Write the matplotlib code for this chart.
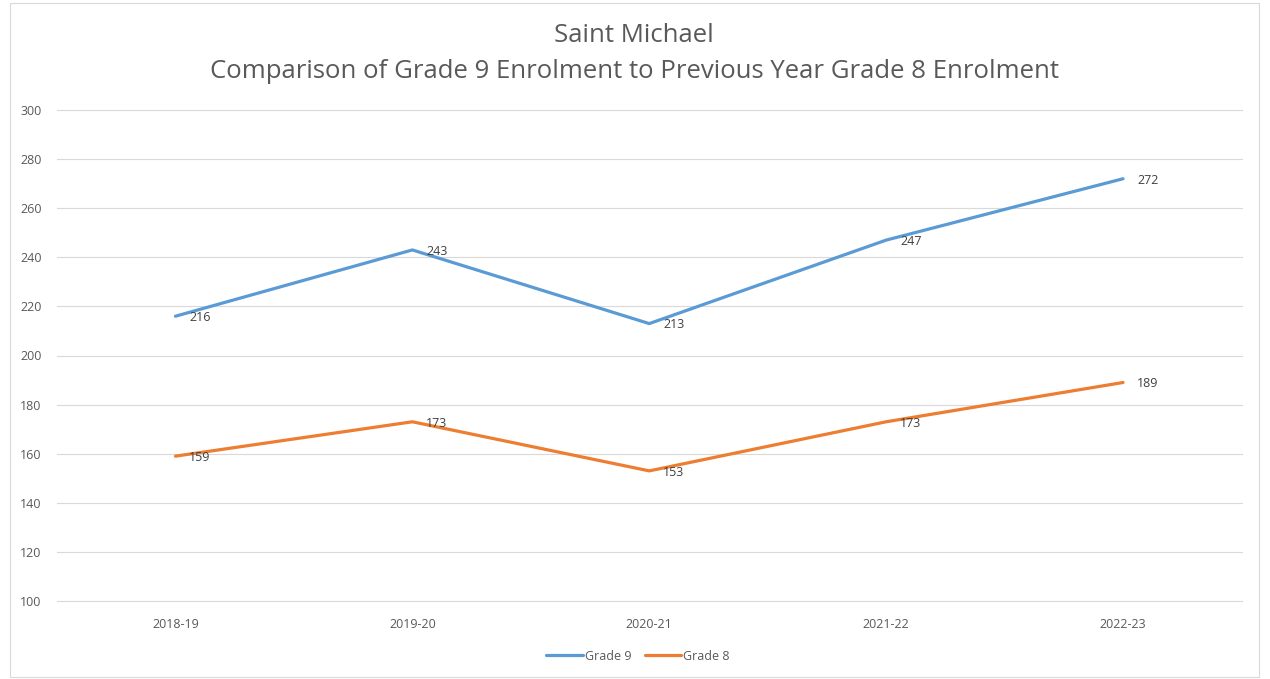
import matplotlib.pyplot as plt
from matplotlib.patches import Rectangle

years = ['2018-19', '2019-20', '2020-21', '2021-22', '2022-23']
grade9 = [216, 243, 213, 247, 272]
grade8 = [159, 173, 153, 173, 189]

plt.rcParams['font.family'] = ['Open Sans', 'DejaVu Sans']

W, H = 1270, 679
fig = plt.figure(figsize=(W / 100, H / 100), dpi=100)

# chart area border
fig.patches.append(Rectangle((10 / W, 1 - 677 / H), 1249 / W, 674 / H,
                             transform=fig.transFigure, fill=False,
                             edgecolor='#d9d9d9', linewidth=0.8))

ax = fig.add_axes([57 / W, 1 - 601 / H, 1184.5 / W, 491 / H])
x = list(range(len(years)))

ax.plot(x, grade9, color='#5b9bd5', lw=2.3, label='Grade 9', solid_capstyle='round')
ax.plot(x, grade8, color='#ed7d31', lw=2.3, label='Grade 8', solid_capstyle='round')

for xi, v in zip(x, grade9):
    ax.annotate(str(v), (xi, v), xytext=(10, -1), textcoords='offset points',
                va='center', ha='left', fontsize=9, color='#404040')
for xi, v in zip(x, grade8):
    ax.annotate(str(v), (xi, v), xytext=(10, -1), textcoords='offset points',
                va='center', ha='left', fontsize=9, color='#404040')

ax.set_xlim(-0.5, 4.5)
ax.set_ylim(100, 300)
ax.set_yticks(range(100, 301, 20))
ax.set_xticks(x)
ax.set_xticklabels(years)
ax.grid(axis='y', color='#d9d9d9', lw=0.8)
for gl in ax.get_ygridlines():
    gl.set_clip_on(False)
ax.set_axisbelow(True)
for s in ax.spines.values():
    s.set_visible(False)
ax.tick_params(length=0, labelsize=9, colors='#595959', pad=12)
ax.tick_params(axis='y', pad=11)

fig.text(634 / W, 1 - 36 / H, 'Saint Michael', ha='center', va='center',
         fontsize=18.5, color='#595959')
fig.text(634 / W, 1 - 72 / H, 'Comparison of Grade 9 Enrolment to Previous Year Grade 8 Enrolment',
         ha='center', va='center', fontsize=18.5, color='#595959')

fig.legend(loc='center', bbox_to_anchor=(638 / W, 1 - 656 / H), ncol=2, frameon=False,
           fontsize=9, labelcolor='#595959', handlelength=2.9, handletextpad=0.15,
           columnspacing=1.1)

fig.savefig('out.png', dpi=100)
